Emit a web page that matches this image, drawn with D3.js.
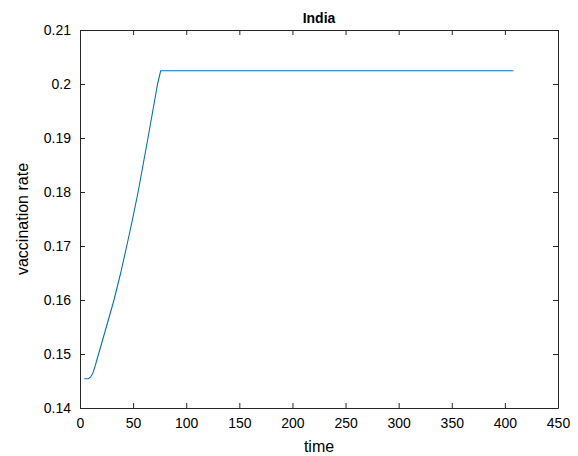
<!DOCTYPE html>
<html><head><meta charset="utf-8">
<script src="https://cdn.jsdelivr.net/npm/d3@7"></script>
<style>body{margin:0;background:#fff}svg{display:block}text{font-family:"Liberation Sans",Arial,Helvetica,sans-serif;fill:#000}</style>
</head><body>
<script>
const title = "India";
const xLabel = "time";
const yLabel = "vaccination rate";
const timeValues = [4, 8, 10, 12, 14, 17.5, 24.8, 32, 38.3, 44, 49.5, 54.7, 64, 73, 76, 408];
const rateValues = [0.14543, 0.14543, 0.14578, 0.1464, 0.1476, 0.15, 0.155, 0.16, 0.165, 0.17, 0.175, 0.18, 0.19, 0.2, 0.20246, 0.20246];
const xTicks = [0, 50, 100, 150, 200, 250, 300, 350, 400, 450];
const yTicks = [0.14, 0.15, 0.16, 0.17, 0.18, 0.19, 0.2, 0.21];

const W = 578, H = 456;
const m = {left: 80, right: 20, top: 30, bottom: 48};
const iw = W - m.left - m.right, ih = H - m.top - m.bottom;
const svg = d3.select("body").append("svg").attr("width", W).attr("height", H);
const g = svg.append("g").attr("transform", `translate(${m.left},${m.top})`);
const x = d3.scaleLinear().domain([0, 450]).range([0, iw]);
const y = d3.scaleLinear().domain([0.14, 0.21]).range([ih, 0]);
const axisColor = "#262626";
const fmt = d => String(+d.toFixed(2));

function styleAxis(sel, showText) {
  sel.select(".domain").attr("stroke", axisColor).attr("stroke-width", 1);
  sel.selectAll(".tick line").attr("stroke", axisColor).attr("stroke-width", 1);
  sel.selectAll(".tick text").style("font-size", "14px").attr("fill", "#000");
  if (!showText) sel.selectAll(".tick text").remove();
}
const xb = g.append("g").attr("transform", `translate(0,${ih})`)
  .call(d3.axisBottom(x).tickValues(xTicks).tickFormat(fmt).tickSizeInner(-5).tickSizeOuter(0).tickPadding(10));
styleAxis(xb, true);
const xt = g.append("g").call(d3.axisTop(x).tickValues(xTicks).tickSizeInner(-5).tickSizeOuter(0));
styleAxis(xt, false);
const yl = g.append("g").call(d3.axisLeft(y).tickValues(yTicks).tickFormat(fmt).tickSizeInner(-5).tickSizeOuter(0).tickPadding(9));
styleAxis(yl, true);
const yr = g.append("g").attr("transform", `translate(${iw},0)`).call(d3.axisRight(y).tickValues(yTicks).tickSizeInner(-5).tickSizeOuter(0));
styleAxis(yr, false);

g.append("path").datum(timeValues.map((t, i) => [t, rateValues[i]]))
  .attr("fill", "none").attr("stroke", "#0072BD").attr("stroke-width", 1.1)
  .attr("stroke-linejoin", "round")
  .attr("d", d3.line().x(d => x(d[0])).y(d => y(d[1])));

svg.append("text").attr("x", m.left + iw / 2).attr("y", 23).attr("text-anchor", "middle")
  .style("font-size", "14px").style("font-weight", "bold").text(title);
svg.append("text").attr("x", m.left + iw / 2).attr("y", 452).attr("text-anchor", "middle")
  .style("font-size", "16px").text(xLabel);
svg.append("text").attr("transform", `translate(28,${m.top + ih / 2}) rotate(-90)`).attr("text-anchor", "middle")
  .style("font-size", "16px").text(yLabel);
</script>
</body></html>
